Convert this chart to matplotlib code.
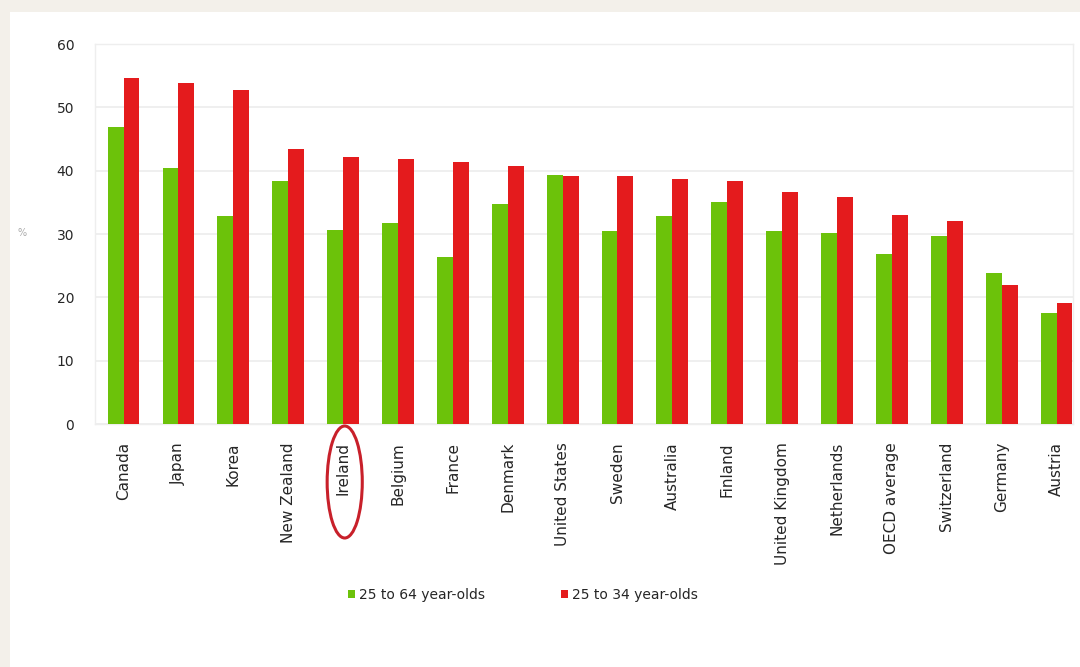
import numpy as np
import matplotlib
matplotlib.use("Agg")
import matplotlib.pyplot as plt
from matplotlib.patches import Rectangle, Ellipse
from matplotlib.transforms import blended_transform_factory

# tertiary attainment by country, two age groups (%)
countries = ["Canada", "Japan", "Korea", "New Zealand", "Ireland", "Belgium",
             "France", "Denmark", "United States", "Sweden", "Australia",
             "Finland", "United Kingdom", "Netherlands", "OECD average",
             "Switzerland", "Germany", "Austria"]
age_25_64 = [46.9, 40.4, 32.8, 38.3, 30.7, 31.7, 26.3, 34.7, 39.3, 30.5,
             32.9, 35.1, 30.5, 30.1, 26.8, 29.7, 23.9, 17.6]
age_25_34 = [54.7, 53.9, 52.8, 43.4, 42.2, 41.8, 41.3, 40.8, 39.2, 39.1,
             38.7, 38.4, 36.6, 35.8, 33.0, 32.1, 21.9, 19.1]
series_names = ["25 to 64 year-olds", "25 to 34 year-olds"]
y_ticks = [0, 10, 20, 30, 40, 50, 60]

green = "#6cc20a"
red = "#e41b1d"
txt = "#262626"

fig = plt.figure(figsize=(10.8, 6.67), dpi=100, facecolor="#f3f0ea")
# white card on the beige page
fig.patches.append(Rectangle((10 / 1080, 0), 1, 1 - 12 / 667,
                             transform=fig.transFigure, facecolor="white",
                             edgecolor="none", zorder=-10))

ax = fig.add_axes([95 / 1080, 1 - 424 / 667, (1073 - 95) / 1080, (424 - 44) / 667])
ax.set_facecolor("white")

x = np.arange(len(countries))
w = 0.29
ax.bar(x - w / 2, age_25_64, width=w, color=green, label=series_names[0], zorder=3)
ax.bar(x + w / 2, age_25_34, width=w, color=red, label=series_names[1], zorder=3)

ax.set_xlim(-0.52, 17.3)
ax.set_ylim(0, 60)
ax.set_yticks(y_ticks)
ax.set_yticklabels([str(t) for t in y_ticks], color=txt, fontsize=10)
ax.set_xticks(x)
ax.set_xticklabels(countries, rotation=90, color=txt, fontsize=11)
ax.tick_params(axis="both", length=0)
ax.tick_params(axis="y", pad=15)
ax.tick_params(axis="x", pad=13)
ax.grid(axis="y", color="#ececec", linewidth=1.2, zorder=0)
for s in ax.spines.values():
    s.set_color("#eeeeee")
    s.set_linewidth(1)

fig.text(22 / 1080, 1 - 233 / 667, "%", color="#aaaaaa", fontsize=7,
         ha="center", va="center")

# ring around the Ireland label
trans = blended_transform_factory(ax.transData, fig.transFigure)
fig.patches.append(Ellipse((countries.index("Ireland") + 0.03, 1 - 482 / 667),
                           0.64, 112 / 667, transform=trans, fill=False,
                           edgecolor="#c8202a", linewidth=2.2, zorder=5))

fig.legend(loc="center", bbox_to_anchor=(523 / 1080, 1 - 595 / 667), ncol=2,
           frameon=False, handlelength=0.5, handleheight=0.5,
           handletextpad=0.25, columnspacing=5.5, fontsize=10,
           labelcolor=txt)

fig.savefig("out.png", dpi=100, facecolor=fig.get_facecolor())
